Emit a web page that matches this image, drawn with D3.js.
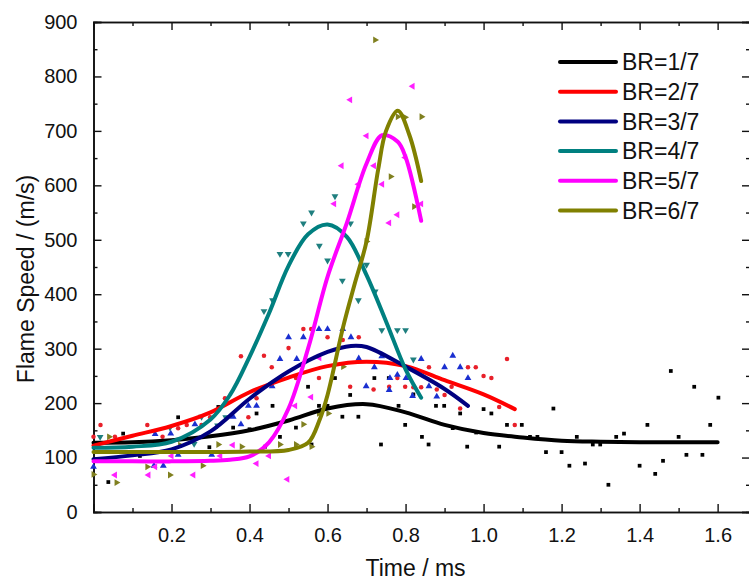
<!DOCTYPE html>
<html>
<head>
<meta charset="utf-8">
<script src="https://cdn.jsdelivr.net/npm/d3@7/dist/d3.min.js"></script>
<style>
    body { margin: 0; background: #fff; }
    text { font-family: "Liberation Sans", Arial, sans-serif; fill: #111; }
</style>
</head>
<body>
<div id="chart"></div>
<script>
// legend labels
const labels = ['BR=1/7', 'BR=2/7', 'BR=3/7', 'BR=4/7', 'BR=5/7', 'BR=6/7'];

// fitted curves, [time ms, speed m/s]
const fit1 = [[0,127],[0.1,128],[0.2,132],[0.3,139],[0.4,150],[0.5,168],[0.6,190],[0.7,198],[0.8,183],[0.9,160],[1.0,145],[1.1,137],[1.2,131],[1.3,129],[1.4,128],[1.5,128],[1.6,128]];
const fit2 = [[0,122],[0.1,140],[0.2,158],[0.3,183],[0.4,220],[0.5,247],[0.6,268],[0.7,276],[0.8,268],[0.9,242],[1.0,216],[1.08,189]];
const fit3 = [[0,97],[0.1,104],[0.2,115],[0.3,148],[0.4,208],[0.5,258],[0.6,294],[0.66,305],[0.7,303],[0.8,267],[0.9,226],[0.96,195]];
const fit4 = [[0,118],[0.1,120],[0.2,129],[0.3,170],[0.35,215],[0.4,285],[0.45,365],[0.5,452],[0.55,510],[0.6,528],[0.65,505],[0.7,435],[0.75,350],[0.8,262],[0.84,210]];
const fit5 = [[0,93],[0.1,93],[0.2,93],[0.3,94],[0.35,96],[0.4,102],[0.45,128],[0.5,190],[0.55,300],[0.6,432],[0.65,532],[0.7,640],[0.74,692],[0.78,680],[0.8,652],[0.84,535]];
const fit6 = [[0,110],[0.1,110],[0.2,110],[0.3,110],[0.4,111],[0.5,114],[0.55,127],[0.58,170],[0.6,215],[0.64,340],[0.67,420],[0.7,497],[0.73,630],[0.75,700],[0.78,737],[0.81,692],[0.84,608]];

// measured points
const pts1 = [[0.038,55],[0.076,144],[0.119,103],[0.217,174],[0.297,119],[0.32,193],[0.358,155],[0.40,152],[0.418,181],[0.44,120],[0.459,195],[0.478,138],[0.519,155],[0.55,230],[0.559,124],[0.578,195],[0.6,195],[0.619,246],[0.638,175],[0.658,215],[0.679,175],[0.72,246],[0.737,124],[0.757,246],[0.782,195],[0.799,160],[0.82,216],[0.842,138],[0.859,124],[0.878,195],[0.899,195],[0.921,154],[0.94,181],[0.958,120],[0.981,146],[1.0,189],[1.02,181],[1.04,120],[1.06,160],[1.098,160],[1.119,138],[1.138,138],[1.16,110],[1.179,190],[1.2,110],[1.22,85],[1.239,138],[1.26,89],[1.28,124],[1.299,124],[1.32,50],[1.34,138],[1.36,144],[1.4,85],[1.42,160],[1.44,70],[1.46,94],[1.48,259],[1.5,138],[1.52,105],[1.54,230],[1.561,105],[1.581,160],[1.602,210]];
const pts2 = [[0.0,138],[0.018,160],[0.055,138],[0.138,160],[0.177,138],[0.217,154],[0.239,160],[0.277,160],[0.299,174],[0.337,209],[0.378,286],[0.397,174],[0.418,209],[0.437,287],[0.457,266],[0.5,301],[0.519,246],[0.538,336],[0.558,336],[0.578,246],[0.6,321],[0.639,316],[0.658,230],[0.68,321],[0.718,225],[0.758,230],[0.779,246],[0.799,230],[0.82,229],[0.84,229],[0.86,266],[0.88,225],[0.9,215],[0.918,230],[0.94,190],[0.96,266],[0.98,266],[1.0,250],[1.02,246],[1.04,193],[1.06,281],[1.08,160]];
const pts3 = [[0.0,83],[0.155,85],[0.158,143],[0.179,85],[0.198,144],[0.217,105],[0.26,161],[0.303,105],[0.358,175],[0.378,161],[0.397,195],[0.418,195],[0.458,231],[0.478,281],[0.5,321],[0.521,281],[0.538,321],[0.578,336],[0.6,336],[0.639,336],[0.66,321],[0.68,282],[0.699,231],[0.72,266],[0.739,286],[0.758,224],[0.76,246],[0.779,252],[0.801,246],[0.818,213],[0.84,281],[0.86,231],[0.88,212],[0.9,266],[0.921,287],[0.94,266],[0.96,246]];
const pts4 = [[0.017,138],[0.196,155],[0.258,125],[0.277,175],[0.318,159],[0.339,174],[0.437,369],[0.459,389],[0.478,474],[0.499,474],[0.538,530],[0.559,550],[0.579,489],[0.6,462],[0.619,580],[0.638,425],[0.659,530],[0.679,389],[0.70,454],[0.722,405],[0.739,334],[0.779,334],[0.80,334],[0.82,280]];
const pts5 = [[0.055,68],[0.141,68],[0.158,83],[0.2,103],[0.256,68],[0.325,103],[0.357,123],[0.418,89],[0.45,103],[0.497,60],[0.517,195],[0.558,211],[0.579,283],[0.617,566],[0.636,636],[0.658,757],[0.679,602],[0.70,691],[0.719,636],[0.74,602],[0.758,531],[0.779,546],[0.799,651],[0.818,782],[0.84,566]];
const pts6 = [[0.0,69],[0.04,138],[0.059,54],[0.138,83],[0.196,68],[0.222,123],[0.28,85],[0.32,124],[0.38,120],[0.478,124],[0.519,124],[0.538,161],[0.559,120],[0.578,181],[0.602,181],[0.64,267],[0.70,497],[0.722,867],[0.762,616],[0.78,726],[0.799,725],[0.822,561],[0.841,726]];

const lineColors = ['#000000', '#ff0000', '#000080', '#008080', '#ff00ff', '#808000'];
const dotColors = ['#000000', '#e8202a', '#1a2fd0', '#1f7f7f', '#ff20ff', '#808020'];

function forMain() {
    const W = 749, H = 580;
    const margin = {top: 22, right: -1, bottom: 68, left: 93.5},
        width = W - margin.left - margin.right,
        height = H - margin.top - margin.bottom;

    const svg = d3.select("#chart")
        .append('svg')
        .attr("width", W).attr("height", H)
        .append("g")
        .attr("transform", `translate(${margin.left},${margin.top})`);

    const x = d3.scaleLinear().domain([0, 1.683]).range([0, width]);
    const y = d3.scaleLinear().domain([0, 900]).range([height, 0]);

    const majX = d3.range(0.2, 1.61, 0.2), minX = d3.range(0.1, 1.65, 0.2);
    const majY = d3.range(0, 901, 100), minY = d3.range(50, 900, 100);

    // bottom axis
    svg.append("g")
        .attr("class", "axis")
        .attr("transform", `translate(0, ${height})`)
        .call(d3.axisBottom(x).tickValues(majX).tickSize(-8).tickPadding(16).tickFormat(d3.format(".1f")));
    svg.append("g")
        .attr("transform", `translate(0, ${height})`)
        .call(d3.axisBottom(x).tickValues(minX).tickSize(-4).tickFormat(""));
    // top axis
    svg.append("g")
        .call(d3.axisTop(x).tickValues(majX).tickSize(-8).tickFormat(""));
    svg.append("g")
        .call(d3.axisTop(x).tickValues(minX).tickSize(-4).tickFormat(""));
    // left axis
    svg.append("g")
        .attr("class", "axis")
        .call(d3.axisLeft(y).tickValues(majY).tickSize(-8).tickPadding(16));
    svg.append("g")
        .call(d3.axisLeft(y).tickValues(minY).tickSize(-4).tickFormat(""));
    // right axis
    svg.append("g")
        .attr("transform", `translate(${width}, 0)`)
        .call(d3.axisRight(y).tickValues(majY).tickSize(-8).tickFormat(""));
    svg.append("g")
        .attr("transform", `translate(${width}, 0)`)
        .call(d3.axisRight(y).tickValues(minY).tickSize(-4).tickFormat(""));

    svg.selectAll(".domain").attr("stroke", "#111").attr("stroke-width", 1.6);
    svg.selectAll(".tick line").attr("stroke", "#111").attr("stroke-width", 1.4);
    svg.selectAll(".axis text").style("font-size", "20px").attr("fill", "#222");

    svg.append("text")
        .attr("text-anchor", "middle")
        .attr("x", x(0.8) + 10)
        .attr("y", height + 64)
        .style("font-size", "23px")
        .text("Time / ms");
    svg.append("text")
        .attr("text-anchor", "middle")
        .attr("transform", `translate(${-60},${y(428)}) rotate(-90)`)
        .style("font-size", "23px")
        .text("Flame Speed / (m/s)");

    const fits = [fit1, fit2, fit3, fit4, fit5, fit6];
    const pts = [pts1, pts2, pts3, pts4, pts5, pts6];
    const shapes = [
        {type: d3.symbolSquare, size: 14, rot: 0},
        {type: d3.symbolCircle, size: 16, rot: 0},
        {type: d3.symbolTriangle, size: 20, rot: 0},
        {type: d3.symbolTriangle, size: 20, rot: 180},
        {type: d3.symbolTriangle, size: 20, rot: -90},
        {type: d3.symbolTriangle, size: 20, rot: 90}
    ];

    pts.forEach((p, i) => {
        svg.append("g").selectAll("path")
            .data(p)
            .enter().append("path")
            .attr("d", d3.symbol().type(shapes[i].type).size(shapes[i].size))
            .attr("transform", d => `translate(${x(d[0])},${y(d[1])}) rotate(${shapes[i].rot})`)
            .attr("fill", dotColors[i]);
    });

    fits.forEach((f, i) => {
        svg.append("path")
            .datum(f)
            .attr("fill", "none")
            .attr("stroke", lineColors[i])
            .attr("stroke-width", 4)
            .attr("stroke-linejoin", "round")
            .attr("stroke-linecap", "round")
            .attr("d", d3.line()
                .curve(d3.curveCatmullRom.alpha(0.5))
                .x(d => x(d[0]))
                .y(d => y(d[1])));
    });

    // legend
    const lg = svg.append("g").attr("transform", `translate(${560 - margin.left},${62 - margin.top})`);
    labels.forEach((name, i) => {
        lg.append("line")
            .attr("x1", 0).attr("x2", 56)
            .attr("y1", i * 29.7).attr("y2", i * 29.7)
            .attr("stroke", lineColors[i])
            .attr("stroke-width", 4)
            .attr("stroke-linecap", "round");
        lg.append("text")
            .attr("x", 62)
            .attr("y", i * 29.7)
            .attr("dy", "0.36em")
            .style("font-size", "23px")
            .text(name);
    });

    svg.node();
}
forMain();
</script>
</body>
</html>
